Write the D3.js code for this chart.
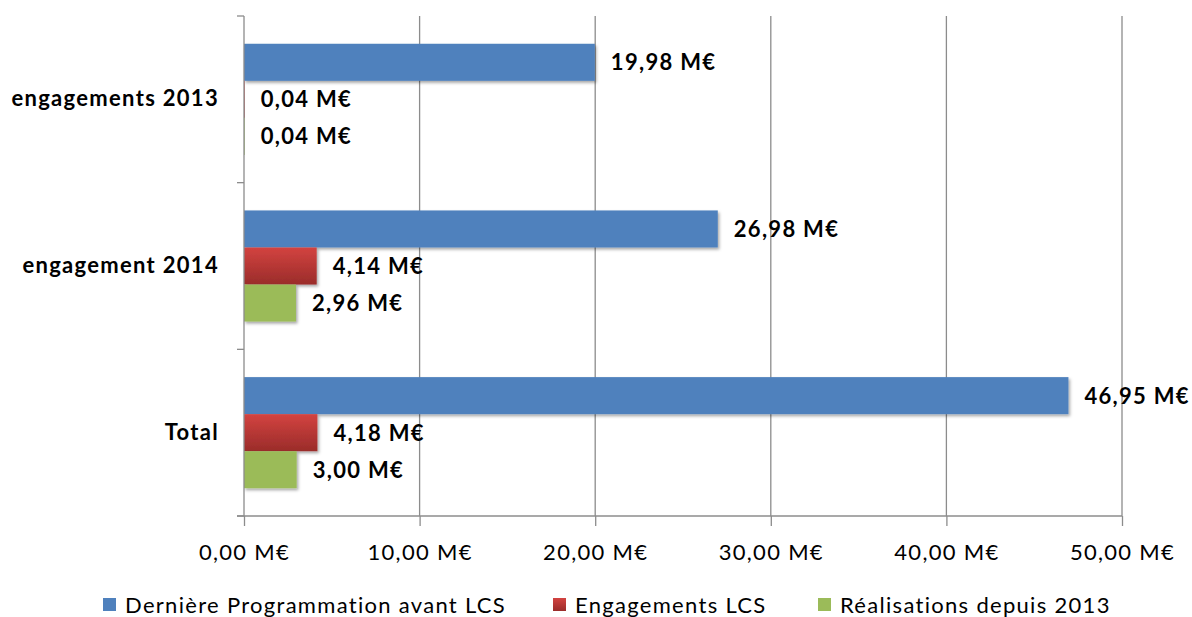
<!DOCTYPE html>
<html><head><meta charset="utf-8">
<script src="https://cdn.jsdelivr.net/npm/d3@7"></script>
<style>body{margin:0;background:#fff}svg{display:block}</style>
</head><body><svg id="c" width="1192" height="617"></svg>
<script>
const categories = ["engagements 2013", "engagement 2014", "Total"];
const seriesNames = ["Dernière Programmation avant LCS", "Engagements LCS", "Réalisations depuis 2013"];
const programmation = [19.98, 26.98, 46.95];
const engagementsLCS = [0.04, 4.14, 4.18];
const realisations = [0.04, 2.96, 3.00];
const xTicks = [0, 10, 20, 30, 40, 50];
const colors = ["#4F81BD", "url(#redGrad)", "#9BBB59"];
const legendColors = ["#4F81BD", "url(#redGrad)", "#9BBB59"];

(function(){
const fmt = v => d3.format(".2f")(v).replace(".", ",") + " M€";
const svg = d3.select("#c");
const FONT = "Lato, 'Open Sans', sans-serif";
const FS = 22, LS = 1.3;
const defs = svg.append("defs");
const rg = defs.append("linearGradient").attr("id","redGrad").attr("x1",0).attr("y1",0).attr("x2",0).attr("y2",1);
rg.append("stop").attr("offset","0%").attr("stop-color","#D34340");
rg.append("stop").attr("offset","100%").attr("stop-color","#9A2C2A");
const f = defs.append("filter").attr("id","sh").attr("x","-5%").attr("y","-20%").attr("width","115%").attr("height","160%");
f.append("feDropShadow").attr("dx",1.5).attr("dy",2).attr("stdDeviation",1.5).attr("flood-color","#000").attr("flood-opacity",0.35);

const mL = 244, mR = 1122, mT = 16, mB = 516;
const x = d3.scaleLinear().domain([0, 50]).range([mL, mR]);
const y = d3.scaleBand().domain(categories).range([mT, mB]).paddingInner(0).paddingOuter(0);
const inner = d3.scaleBand().domain(d3.range(3)).range([0, y.bandwidth()]).paddingOuter(0.75).paddingInner(0);

svg.append("g").selectAll("line").data(xTicks.filter(d => d > 0)).join("line")
  .attr("x1", d => x(d)).attr("x2", d => x(d)).attr("y1", mT).attr("y2", mB)
  .attr("stroke", "#8c8c8c").attr("stroke-width", 1.3);

const data = [programmation, engagementsLCS, realisations];
const g = svg.append("g");
categories.forEach((c, ci) => {
  data.forEach((arr, si) => {
    const v = arr[ci];
    const y0 = y(c) + inner(si);
    g.append("rect").attr("x", x(0)).attr("y", y0).attr("width", Math.max(0.7, x(v) - x(0)))
      .attr("height", inner.bandwidth()).attr("fill", colors[si]).attr("filter", "url(#sh)");
    g.append("text").attr("x", x(v) + 16).attr("y", y0 + inner.bandwidth() / 2)
      .attr("dy", "0.36em").attr("font-family", FONT).attr("font-weight", "bold")
      .attr("font-size", FS).attr("letter-spacing", LS).attr("fill", "#000").text(fmt(v));
  });
});

const xAxis = d3.axisBottom(x).tickValues(xTicks).tickSize(10).tickFormat(fmt);
const xa = svg.append("g").attr("transform", `translate(0,${mB})`).call(xAxis);
xa.select(".domain").attr("stroke", "#8c8c8c").attr("stroke-width", 1.3).attr("d", `M${mL-7},0H${mR}`);
xa.selectAll(".tick line").attr("stroke", "#8c8c8c").attr("stroke-width", 1.3);
xa.selectAll(".tick text").attr("font-family", FONT).attr("font-size", FS).attr("letter-spacing", LS)
  .attr("fill", "#000").attr("y", 28);

const ya = svg.append("g").attr("transform", `translate(${mL},0)`)
  .call(d3.axisLeft(y).tickSize(0).tickPadding(25));
ya.select(".domain").attr("stroke", "#8c8c8c").attr("stroke-width", 1.3).attr("d", `M0,${mT}V${mB}`);
ya.selectAll(".tick text").attr("font-family", FONT).attr("font-weight", "bold").attr("font-size", FS)
  .attr("letter-spacing", LS).attr("fill", "#000");
const yBounds = categories.map(c => y(c)).concat([mB]);
svg.append("g").selectAll("line").data(yBounds).join("line")
  .attr("x1", mL - 7).attr("x2", mL).attr("y1", d => d).attr("y2", d => d)
  .attr("stroke", "#8c8c8c").attr("stroke-width", 1.3);

const legendX = [103, 553, 818];
const lg = svg.append("g");
seriesNames.forEach((n, i) => {
  lg.append("rect").attr("x", legendX[i]).attr("y", 598).attr("width", 13).attr("height", 13).attr("fill", legendColors[i]);
  lg.append("text").attr("x", legendX[i] + 22).attr("y", 605).attr("dy", "0.36em")
    .attr("font-family", FONT).attr("font-size", FS).attr("letter-spacing", LS).attr("fill", "#000").text(n);
});
})();
</script></body></html>
